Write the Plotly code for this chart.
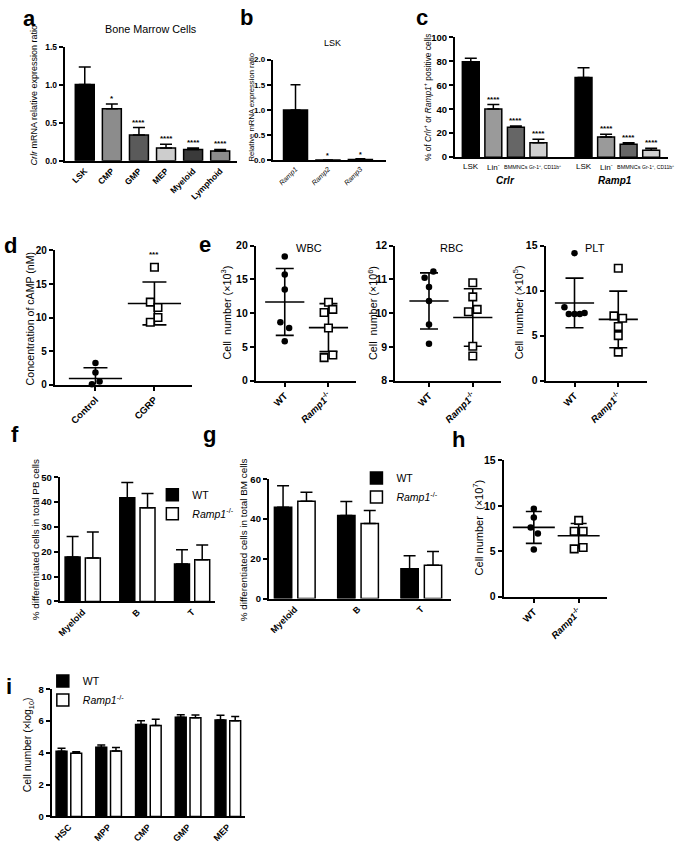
import plotly.graph_objects as go

W, H = 685, 849
FONT = "Liberation Sans, Arial, sans-serif"

# ======================= DATA =======================
# (a) Crlr mRNA relative expression, bone marrow cells
a_cats = ["LSK", "CMP", "GMP", "MEP", "Myeloid", "Lymphoid"]
a_vals = [1.01, 0.69, 0.34, 0.17, 0.15, 0.13]
a_err = [0.23, 0.06, 0.10, 0.05, 0.02, 0.02]
a_sig = ["", "*", "****", "****", "****", "****"]

# (b) Ramp expression in LSK
b_cats = ["Ramp1", "Ramp2", "Ramp3"]
b_vals = [1.0, 0.008, 0.02]
b_err = [0.5, 0.004, 0.012]
b_sig = ["", "*", "*"]

# (c) % of Crlr+ or Ramp1+ positive cells
c_groups = ["Crlr", "Ramp1"]
c_cats = ["LSK", "Lin<sup>-</sup>", "BMMNCs", "Gr-1<sup>+</sup>, CD11b<sup>+</sup>"]
c_crlr = [79.6, 40.2, 25.0, 12.1]
c_crlr_err = [2.8, 3.6, 0.9, 2.8]
c_ramp1 = [66.4, 16.8, 10.7, 5.8]
c_ramp1_err = [8.2, 2.2, 1.4, 1.6]
c_sig = ["", "****", "****", "****"]

# (d) cAMP concentration
d_cats = ["Control", "CGRP"]
d_control = [3.2, 1.8, 0.05, 0.45]
d_cgrp = [17.5, 12.3, 11.5, 10.0, 9.3]
d_mean = [0.9, 12.1]
d_sd = [1.6, 3.2]

# (e) blood counts
e_cats = ["WT", "<i>Ramp1</i><sup>-/-</sup>"]
wbc_wt = [18.4, 15.7, 13.5, 8.66, 7.8, 5.84]
wbc_ko = [11.6, 10.55, 10.1, 7.8, 3.8, 3.4]
wbc_mean = [11.65, 7.85]
wbc_sd = [4.95, 3.55]
rbc_wt = [11.23, 11.05, 10.77, 10.36, 9.66, 9.09]
rbc_ko = [10.9, 10.48, 10.11, 10.04, 9.02, 8.73]
rbc_mean = [10.36, 9.87]
rbc_sd = [0.83, 0.85]
plt_wt = [14.16, 8.14, 7.4, 7.4, 7.4, 7.5]
plt_ko = [12.48, 7.19, 6.93, 6.02, 5.0, 3.17]
plt_mean = [8.63, 6.8]
plt_sd = [2.75, 3.14]

# (f) PB differentiated cells, (g) BM differentiated cells
fg_cats = ["Myeloid", "B", "T"]
f_wt = [17.9, 41.7, 15.1]
f_wt_err = [8.2, 6.2, 5.7]
f_ko = [17.5, 37.7, 16.8]
f_ko_err = [10.5, 5.8, 5.9]
g_wt = [45.9, 41.8, 15.0]
g_wt_err = [10.8, 7.0, 6.5]
g_ko = [48.9, 37.7, 16.7]
g_ko_err = [4.5, 6.6, 6.9]

# (h) BM cell number
h_wt = [9.67, 8.7, 7.6, 6.96, 5.18]
h_ko = [8.4, 7.2, 7.2, 5.25, 5.4]
h_mean = [7.62, 6.7]
h_sd = [1.76, 1.35]

# (i) progenitor cell numbers
i_cats = ["HSC", "MPP", "CMP", "GMP", "MEP"]
i_wt = [4.1, 4.35, 5.78, 6.23, 6.07]
i_wt_err = [0.18, 0.14, 0.24, 0.17, 0.29]
i_ko = [3.97, 4.12, 5.71, 6.21, 6.02]
i_ko_err = [0.09, 0.21, 0.40, 0.17, 0.27]

series_names = ["WT", "<i>Ramp1</i><sup>-/-</sup>"]

# ======================= STYLE =======================
a_colors = ["#000000", "#8c8c8c", "#5a5a5a", "#cdcdcd", "#3a3a3a", "#8c8c8c"]
c_colors = ["#000000", "#9a9a9a", "#666666", "#cfcfcf"]
c_label_size = [8, 8, 5.5, 5]
c_label_shift = [0, 0, 0, 7]
# small horizontal scatter offsets (category units), as in the original plots
JIT = {
    "d": ([0, 0, -0.06, 0.07], [0, -0.07, 0.06, 0.06, -0.07]),
    "wbc": ([0, 0, 0, -0.1, 0.1, 0], [0, 0.1, -0.1, 0, 0.1, -0.1]),
    "rbc": ([0.1, -0.1, 0, 0, 0, 0], [0, 0, 0.1, -0.1, 0, 0]),
    "plt": ([0, -0.23, -0.13, 0, 0.12, 0.23], [0, -0.1, 0.1, 0, 0, 0]),
    "h": ([0, 0, -0.07, 0.09, 0], [0, -0.1, 0.1, -0.1, 0.1]),
}

# panel boxes in pixels: x0, x1, ytop, ybottom
BOX = {
    1: (62, 235, 42, 157),      # a
    2: (271, 385, 54.3, 156.7), # b
    3: (454, 668, 31.7, 153.3), # c
    4: (52, 190, 248, 384),     # d
    5: (254, 355, 243, 380),    # e WBC
    6: (394, 500, 243, 380),    # e RBC
    7: (545, 647, 243, 380),    # e PLT
    8: (57, 213, 478, 604),     # f
    9: (267, 450, 480, 601),    # g
    10: (503, 607, 461, 599),   # h
    11: (49, 243, 693, 822),    # i
}

fig = go.Figure()


def ax_names(n):
    return ("x" if n == 1 else f"x{n}"), ("y" if n == 1 else f"y{n}")


def err(arr):
    return dict(type="data", array=arr, arrayminus=[0] * len(arr), symmetric=False,
                color="black", thickness=1.5, width=5)


# ---- (a)
fig.add_trace(go.Bar(x=a_cats, y=a_vals, width=0.7,
                     marker=dict(color=a_colors, line=dict(color="black", width=1.5)),
                     error_y={**err(a_err), "width": 6},
                     xaxis="x", yaxis="y", showlegend=False))
# ---- (b)
fig.add_trace(go.Bar(x=b_cats, y=b_vals, width=0.74,
                     marker=dict(color="black", line=dict(color="black", width=1.5)),
                     error_y={**err(b_err), "width": 5},
                     xaxis="x2", yaxis="y2", showlegend=False))
# ---- (c)
c_keys = [f"{c_groups[0]}|{k}" for k in range(len(c_cats))] + ["gap"] + \
         [f"{c_groups[1]}|{k}" for k in range(len(c_cats))]
c_y = c_crlr + [None] + c_ramp1
c_e = c_crlr_err + [0] + c_ramp1_err
fig.add_trace(go.Bar(x=c_keys, y=c_y, width=0.75,
                     marker=dict(color=c_colors + ["white"] + c_colors,
                                 line=dict(color="black", width=1.5)),
                     error_y={**err(c_e), "width": 6},
                     xaxis="x3", yaxis="y3", showlegend=False))


# ---- dot panels
def dot_panel(n, wt, ko, means, sds, jit, mean_size, cap):
    xa, ya = ax_names(n)
    fig.add_trace(go.Scatter(x=[0, 1], y=means, mode="markers",
                             marker=dict(symbol="line-ew", size=mean_size, color="black",
                                         line=dict(color="black", width=1.6)),
                             error_y=dict(type="data", array=sds, color="black",
                                          thickness=1.6, width=cap),
                             xaxis=xa, yaxis=ya, showlegend=False, hoverinfo="skip"))
    fig.add_trace(go.Scatter(x=[0 + j for j in jit[0]], y=wt, mode="markers",
                             marker=dict(symbol="circle", size=6.5, color="black"),
                             xaxis=xa, yaxis=ya, showlegend=False, cliponaxis=False))
    fig.add_trace(go.Scatter(x=[1 + j for j in jit[1]], y=ko, mode="markers",
                             marker=dict(symbol="square", size=7.5, color="white",
                                         line=dict(color="black", width=1.6)),
                             xaxis=xa, yaxis=ya, showlegend=False, cliponaxis=False))


dot_panel(4, d_control, d_cgrp, d_mean, d_sd, JIT["d"], 38, 12)
dot_panel(5, wbc_wt, wbc_ko, wbc_mean, wbc_sd, JIT["wbc"], 28, 9)
dot_panel(6, rbc_wt, rbc_ko, rbc_mean, rbc_sd, JIT["rbc"], 28, 9)
dot_panel(7, plt_wt, plt_ko, plt_mean, plt_sd, JIT["plt"], 28, 9)
dot_panel(10, h_wt, h_ko, h_mean, h_sd, JIT["h"], 30, 8)


# ---- grouped bar panels
def group_panel(n, cats, wt, wt_e, ko, ko_e, leg, cap):
    xa, ya = ax_names(n)
    fig.add_trace(go.Bar(x=cats, y=wt, name=series_names[0],
                         marker=dict(color="black", line=dict(color="black", width=1.5)),
                         error_y={**err(wt_e), "width": cap},
                         xaxis=xa, yaxis=ya, legend=leg))
    fig.add_trace(go.Bar(x=cats, y=ko, name=series_names[1],
                         marker=dict(color="white", line=dict(color="black", width=1.5)),
                         error_y={**err(ko_e), "width": cap},
                         xaxis=xa, yaxis=ya, legend=leg))


group_panel(8, fg_cats, f_wt, f_wt_err, f_ko, f_ko_err, "legend", 6)
group_panel(9, fg_cats, g_wt, g_wt_err, g_ko, g_ko_err, "legend2", 6)
group_panel(11, i_cats, i_wt, i_wt_err, i_ko, i_ko_err, "legend3", 4)

# ======================= AXES =======================
layout = {}
AXIS_SPEC = {
    # n: (xtype, xrange, yrange, dtick, ytick size, xtick size, xticks, tickformat)
    1: ("category", [-0.74, 5.62], [0, 1.5], 0.5, 8.5, 8.5, "", ".1f"),
    2: ("category", [-0.7, 2.8], [0, 2.0], 0.5, 8, 7, "", ".1f"),
    3: ("category", [-0.7, 8.75], [0, 100], 20, 9.5, 7.5, "", None),
    4: ("linear", [-0.69, 1.64], [0, 20], 5, 10, 9.5, "outside", None),
    5: ("linear", [-0.66, 1.64], [0, 20], 5, 10.5, 9.5, "outside", None),
    6: ("linear", [-0.77, 1.64], [8, 12], 1, 10.5, 9.5, "outside", None),
    7: ("linear", [-0.66, 1.66], [0, 15], 5, 10.5, 9.5, "outside", None),
    8: ("category", [-0.42, 2.42], [0, 50], 10, 9.5, 9, "", None),
    9: ("category", [-0.41, 2.47], [0, 60], 20, 9.5, 9, "", None),
    10: ("linear", [-0.67, 1.64], [0, 15], 5, 10.5, 9.5, "outside", None),
    11: ("category", [-0.43, 4.43], [0, 8], 2, 9.5, 9, "", None),
}

for n, (xt, xr, yr, dt, ys, xs, xticks, tf) in AXIS_SPEC.items():
    x0, x1, yt, yb = BOX[n]
    xk = "xaxis" if n == 1 else f"xaxis{n}"
    yk = "yaxis" if n == 1 else f"yaxis{n}"
    xa, ya = ax_names(n)
    xd = dict(domain=[x0 / W, x1 / W], anchor=ya, type=xt, range=xr,
              showline=True, linecolor="black", linewidth=2, showgrid=False,
              zeroline=False, ticks=xticks, ticklen=4, tickwidth=2, tickcolor="black",
              tickangle=-45, fixedrange=True,
              tickfont=dict(family=FONT, size=xs, color="black", weight="bold"))
    yd = dict(domain=[1 - yb / H, 1 - yt / H], anchor=xa, range=yr, dtick=dt, tick0=yr[0],
              showline=True, linecolor="black", linewidth=2, showgrid=False,
              zeroline=False, ticks="outside", ticklen=4, tickwidth=2, tickcolor="black",
              fixedrange=True,
              tickfont=dict(family=FONT, size=ys, color="black", weight="bold"))
    if tf:
        yd["tickformat"] = tf
    layout[xk] = xd
    layout[yk] = yd

# category tick labels
layout["xaxis2"].update(tickmode="array", tickvals=b_cats,
                        ticktext=[f"<i>{c}</i>" for c in b_cats],
                        tickfont=dict(family=FONT, size=7, color="black", weight="normal"))
layout["xaxis3"].update(showticklabels=False)
layout["xaxis4"].update(tickmode="array", tickvals=[0, 1], ticktext=d_cats)
for n in (5, 6, 7, 10):
    layout[f"xaxis{n}"].update(tickmode="array", tickvals=[0, 1], ticktext=e_cats)

# ======================= TEXT =======================
ann = []


def txt(x, y, text, size, bold=False, angle=0, xanchor="center", yanchor="middle"):
    ann.append(dict(x=x / W, y=1 - y / H, xref="paper", yref="paper", text=text,
                    showarrow=False, textangle=angle, xanchor=xanchor, yanchor=yanchor,
                    font=dict(family=FONT, size=size, color="black",
                              weight="bold" if bold else "normal")))


# panel letters
for letter, (lx, ly) in {"a": (27, 13), "b": (245, 12), "c": (421, 12), "d": (8, 243),
                         "e": (203, 242), "f": (12, 435), "g": (207, 435), "h": (458, 440),
                         "i": (6, 690)}.items():
    txt(lx, ly, letter, 22, bold=True)

# titles
txt(149, 23, "Bone Marrow Cells", 10.8)
txt(331, 38, "LSK", 9)
txt(307, 245, "WBC", 11)
txt(450, 245, "RBC", 11)
txt(595, 245, "PLT", 11)

# y-axis titles
txt(31, 90, "<i>Crlr</i> mRNA relative expression ratio", 9, angle=-90)
txt(250, 102, "Relative mRNA expression ratio", 7.7, angle=-90)
txt(426, 93, "% of <i>Crlr</i><sup>+</sup> or <i>Ramp1</i><sup>+</sup> positive cells", 8.3, angle=-90)
txt(27, 317, "Concentration of cAMP (nM)", 10.6, angle=-90)
txt(224, 311, "Cell  number (×10<sup>3</sup>)", 10.8, angle=-90)
txt(371, 311, "Cell  number (×10<sup>6</sup>)", 10.8, angle=-90)
txt(517, 311, "Cell  number (×10<sup>5</sup>)", 10.8, angle=-90)
txt(32, 541, "% differentiated cells in total PB cells", 9.9, angle=-90)
txt(241, 541, "% differentiated cells in total BM cells", 9.9, angle=-90)
txt(477, 529, "Cell number  (×10<sup>7</sup>)", 11, angle=-90)
txt(26, 749, "Cell number (×log<sub>10</sub>)", 10.5, angle=-90)

# category labels of (c)
for gi in range(2):
    for k, lab in enumerate(c_cats):
        key = c_keys[k + gi * (len(c_cats) + 1)]
        ann.append(dict(x=key, y=1 - 163 / H, xref="x3", yref="paper", text=lab,
                        showarrow=False, xshift=c_label_shift[k], yanchor="middle",
                        font=dict(family=FONT, size=c_label_size[k], color="black")))
# group labels (c)
txt(505, 177, f"<b><i>{c_groups[0]}</i></b>", 10)
txt(615, 177, f"<b><i>{c_groups[1]}</i></b>", 10)


def stars(xref, yref, xs, tops, sigs, size=8):
    for x, t, s in zip(xs, tops, sigs):
        if s:
            ann.append(dict(x=x, y=t, xref=xref, yref=yref, text=s, showarrow=False,
                            yanchor="bottom", yshift=-1,
                            font=dict(family=FONT, size=size, color="black", weight="bold")))


stars("x", "y", a_cats, [v + e for v, e in zip(a_vals, a_err)], a_sig)
stars("x2", "y2", b_cats, [v + e for v, e in zip(b_vals, b_err)], b_sig, 7)
stars("x3", "y3", c_keys, [v + e if v is not None else 0 for v, e in zip(c_y, c_e)],
      c_sig + [""] + c_sig)
stars("x4", "y4", [1], [max(d_cgrp)], ["***"])
ann[-1]["yshift"] = 6

legend_common = dict(bgcolor="rgba(0,0,0,0)", borderwidth=0, tracegroupgap=0,
                     xanchor="left", yanchor="top",
                     font=dict(family=FONT, size=10.5, color="black"))

fig.update_layout(
    width=W, height=H, margin=dict(l=0, r=0, t=0, b=0),
    paper_bgcolor="white", plot_bgcolor="white",
    barmode="group", bargap=0.26, bargroupgap=0.26,
    font=dict(family=FONT, color="black"),
    annotations=ann,
    legend=dict(x=150 / W, y=1 - 481 / H, **legend_common),
    legend2=dict(x=355 / W, y=1 - 464 / H, **legend_common),
    legend3=dict(x=40 / W, y=1 - 670 / H, **legend_common),
    **layout,
)

fig.write_html("out.html",
               config={"displayModeBar": False, "staticPlot": True},
               post_script="document.body.style.margin='0px';"
                           "document.body.style.overflow='hidden';")
